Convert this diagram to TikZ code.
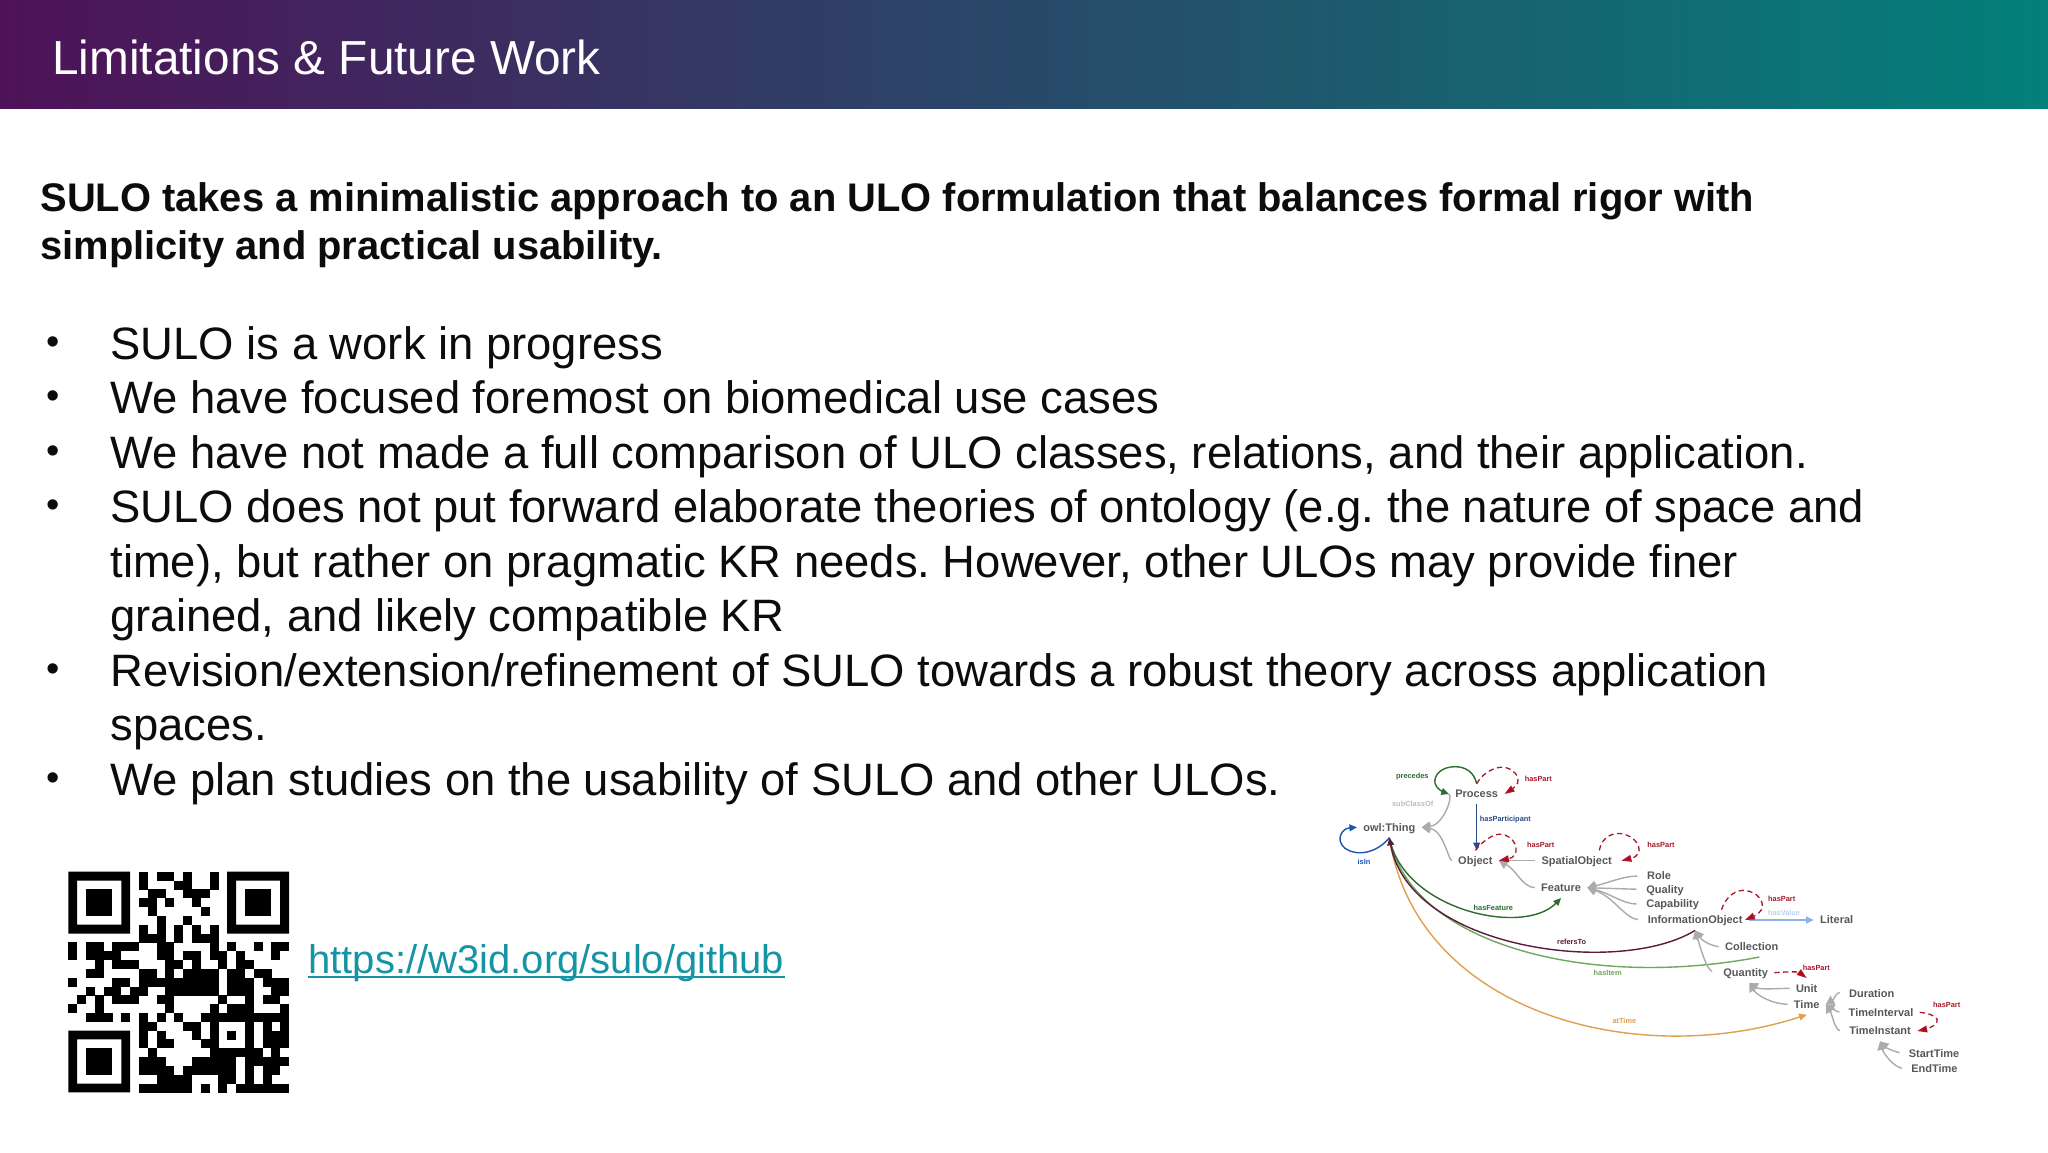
\documentclass[tikz,border=0pt]{standalone}
\usepackage{fontspec}
\setmainfont{Liberation Sans}
\usetikzlibrary{arrows.meta}
\frenchspacing
\definecolor{hdrL}{HTML}{4E1258}
\definecolor{hdrM}{HTML}{2A4A6C}
\definecolor{hdrR}{HTML}{03807A}
\definecolor{bodyink}{HTML}{0C0C0C}
\definecolor{linkink}{HTML}{1594A6}
\definecolor{cls}{HTML}{585858}
\definecolor{sub}{HTML}{ABABAB}
\definecolor{partred}{HTML}{A8182A}
\definecolor{tipred}{HTML}{C00010}
\definecolor{grn}{HTML}{2E6B2E}
\definecolor{blu}{HTML}{2A4A8A}
\definecolor{blv}{HTML}{1A56B0}
\definecolor{pur}{HTML}{5C1A3C}
\definecolor{itm}{HTML}{6FA85F}
\definecolor{org}{HTML}{DFA050}
\definecolor{val}{HTML}{8FB0EE}
\tikzset{
  titletext/.style={anchor=base west,inner sep=0pt,text=white,font=\fontsize{23.87}{28}\selectfont},
  leadtext/.style={anchor=base west,inner sep=0pt,text=bodyink,font=\bfseries\fontsize{19.95}{24}\selectfont},
  bodytext/.style={anchor=base west,inner sep=0pt,text=bodyink,font=\fontsize{22.7}{26}\selectfont},
  bulletmark/.style={anchor=base,inner sep=0pt,text=bodyink,font=\fontsize{19}{22}\selectfont},
  linktext/.style={anchor=base west,inner sep=0pt,text=linkink,font=\fontsize{20}{24}\selectfont},
  cnode/.style={inner sep=3pt,text height=3.96pt,text depth=0pt,text=cls,font=\bfseries\fontsize{5.5}{6.6}\selectfont},
  lnode/.style={cnode,anchor=west},
  elab/.style={inner sep=0pt,font=\bfseries\fontsize{3.7}{4.4}\selectfont},
  subarrow/.style={draw=sub,line width=0.7pt,-{Triangle[length=4.2pt,width=5pt,fill=sub]}},
  partarrow/.style={draw=partred,line width=0.65pt,dash pattern=on 2.6pt off 1.8pt,-{Triangle[length=5pt,width=3.4pt,fill=tipred]}},
  relarrow/.style={line width=0.7pt,-{Triangle[length=3.8pt,width=3.4pt]}},
}
\begin{document}
\begin{tikzpicture}[x=0.5pt,y=-0.5pt]
\useasboundingbox (0,0) rectangle (2048,1152);
\fill[white] (0,0) rectangle (2048,1152);
\shade[left color=hdrL,middle color=hdrM,right color=hdrR,shading angle=90] (0,0) rectangle (2048,108);
\node[titletext] (title) at (52,74) {Limitations \& Future Work};
\node[leadtext] (lead1) at (40,211) {SULO takes a minimalistic approach to an ULO formulation that balances formal rigor with};
\node[leadtext] (lead2) at (40,259) {simplicity and practical usability.};
\foreach \bn/\by in {b1/354,b2/408.5,b3/463,b4/517.5,b5/681,b6/790}
  \node[bulletmark] (\bn) at (53.5,\by) {•};
\node[bodytext] (t1) at (110,359) {SULO is a work in progress};
\node[bodytext] (t2) at (110,413.5) {We have focused foremost on biomedical use cases};
\node[bodytext] (t3) at (110,468) {We have not made a full comparison of ULO classes, relations, and their application.};
\node[bodytext] (t4) at (110,522.5) {SULO does not put forward elaborate theories of ontology (e.g. the nature of space and};
\node[bodytext] (t5) at (110,577) {time), but rather on pragmatic KR needs. However, other ULOs may provide finer};
\node[bodytext] (t6) at (110,631.5) {grained, and likely compatible KR};
\node[bodytext] (t7) at (110,686) {Revision/extension/refinement of SULO towards a robust theory across application};
\node[bodytext] (t8) at (110,740.5) {spaces.};
\node[bodytext] (t9) at (110,795) {We plan studies on the usability of SULO and other ULOs.};
\node[linktext] (link) at (308,973) {https://w3id.org/sulo/github};
\fill[linkink] ([yshift=-1.4pt]link.base west) rectangle ([yshift=-2.6pt]link.base east);
% QR code
\begin{scope}[shift={(68.3,871.7)},x=4.415pt,y=-4.415pt]
  \foreach \fx/\fy in {0/0,18/0,0/18}{
    \fill[black,even odd rule] (\fx,\fy) rectangle ++(7,7) (\fx+1,\fy+1) rectangle ++(5,5);
    \fill[black] (\fx+2,\fy+2) rectangle ++(3,3);
  }
  \foreach \qr/\qcs in {
    0/{8,10,11,13,16},
    1/{8,12,13,16},
    2/{9,10,13,14,15},
    3/{8,9,11,14},
    4/{9,15},
    5/{10,13},
    6/{8,10,12,14,16},
    7/{8,9,10,12,14,15,16},
    8/{0,2,3,5,6,7,10,11,16,18,21,23,24},
    9/{0,2,3,4,5,10,11,13,14,16,17,19,23},
    10/{3,5,6,7,11,12,14,17,19,20},
    11/{2,3,8,9,11,13,14,15,16,18,19,21,22},
    12/{0,5,6,8,9,10,11,12,13,14,15,16,18,19,20,22,23,24},
    13/{2,4,5,7,8,11,12,13,14,15,16,18,19,20,23,24},
    14/{1,3,5,6,7,10,11,17,20,22,23},
    15/{0,3,11,16,18,19,20,24},
    16/{2,3,4,6,8,10,12,15,16,17,18,19,20,21,22,23,24},
    17/{8,9,13,14,16,20,22,24},
    18/{8,10,14,16,18,20,22,23,24},
    19/{8,10,11,15,16,20,22,23,24},
    20/{9,16,17,18,19,20,21,23},
    21/{8,9,10,14,15,16,17,18,20,21,22,23,24},
    22/{8,9,10,11,13,14,15,16,17,18,20,22,23},
    23/{10,11,12,13,17,18,20,22},
    24/{8,9,10,11,12,13,15,17,19,20,21,22,23,24}}{
    \foreach \qc in \qcs {
      \fill[black] (\qc,\qr) rectangle ++(1.02,1.02);
    }
  }
\end{scope}
% Ontology diagram
\begin{scope}[shift={(1320,750)},x=0.16667pt,y=-0.16667pt]
  \node[cnode] (process) at (470,132) {Process};
  \node[cnode] (owl) at (208,232) {owl:Thing};
  \node[cnode] (object) at (466,332) {Object};
  \node[cnode] (spatial) at (770,332) {SpatialObject};
  \node[cnode] (feature) at (723,413) {Feature};
  \node[lnode] (role) at (962,378) {Role};
  \node[lnode] (quality) at (960,418) {Quality};
  \node[lnode] (capability) at (960,462) {Capability};
  \node[lnode] (io) at (964,510) {InformationObject};
  \node[cnode] (literal) at (1550,510) {Literal};
  \node[cnode] (collection) at (1295,590) {Collection};
  \node[cnode] (quantity) at (1277,668) {Quantity};
  \node[cnode] (unit) at (1460,715) {Unit};
  \node[cnode] (time) at (1460,763) {Time};
  \node[cnode] (duration) at (1655,730) {Duration};
  \node[cnode] (interval) at (1683,787) {TimeInterval};
  \node[cnode] (instant) at (1680,843) {TimeInstant};
  \node[cnode] (start) at (1842,910) {StartTime};
  \node[cnode] (endt) at (1843,956) {EndTime};
  % edge labels
  \node[elab,text=grn] (lprec) at (277,80) {precedes};
  \node[elab,text=partred] (lp1) at (655,86) {hasPart};
  \node[elab,text=sub!80!white] (lsub) at (278,162) {subClassOf};
  \node[elab,text=blu] (lpart) at (556,208) {hasParticipant};
  \node[elab,text=blv] (lisin) at (132,335) {isIn};
  \node[elab,text=partred] (lp2) at (662,285) {hasPart};
  \node[elab,text=partred] (lp3) at (1023,284) {hasPart};
  \node[elab,text=grn] (lfeat) at (520,474) {hasFeature};
  \node[elab,text=pur] (lref) at (755,576) {refersTo};
  \node[elab,text=partred] (lp4) at (1385,445) {hasPart};
  \node[elab,text=val!60!white] (lval) at (1392,489) {hasValue};
  \node[elab,text=partred] (lp5) at (1489,652) {hasPart};
  \node[elab,text=partred] (lp6) at (1880,764) {hasPart};
  \node[elab,text=itm] (litem) at (863,668) {hasItem};
  \node[elab,text=org] (ltime) at (913,813) {atTime};
  % long arcs
  \draw[org,line width=0.7pt,-{Triangle[length=3.8pt,width=3.4pt,fill=org]}] (owl.south) .. controls (290,790) and (950,960) .. (time.south);
  \draw[itm,line width=0.7pt] (owl.south) .. controls (270,580) and (800,720) .. ([xshift=3.8pt]collection.south);
  \draw[grn,relarrow] (owl.south) .. controls (250,480) and (610,560) .. (feature.south);
  \draw[pur,line width=0.7pt,{Triangle[length=3.8pt,width=3.4pt]}-] (owl.south) .. controls (270,600) and (900,680) .. (io.south);
  % subclass links
  \draw[subarrow] (process.west) .. controls (400,140) and (370,225) .. (owl.east);
  \draw[subarrow] (object.west) .. controls (385,330) and (370,240) .. (owl.east);
  \draw[subarrow] (spatial.west) -- (object.east);
  \draw[subarrow] (feature.west) .. controls (605,410) and (590,360) .. (object.east);
  \draw[subarrow,shorten <=1.7pt] (role.west) .. controls (910,378) and (860,400) .. (feature.east);
  \draw[subarrow,shorten <=1.7pt] (quality.west) -- (feature.east);
  \draw[subarrow,shorten <=1.7pt] (capability.west) .. controls (910,462) and (870,430) .. (feature.east);
  \draw[subarrow,shorten <=1.7pt] (io.west) .. controls (915,505) and (880,440) .. (feature.east);
  \draw[subarrow] (collection.west) .. controls (1165,585) and (1145,570) .. (io.south);
  \draw[subarrow,shorten <=2.5pt] (quantity.west) .. controls (1160,660) and (1140,590) .. (io.south);
  \draw[subarrow] (unit.west) .. controls (1370,715) and (1320,720) .. ([xshift=1.8pt]quantity.south);
  \draw[subarrow] (time.west) .. controls (1350,760) and (1310,735) .. ([xshift=1.8pt]quantity.south);
  \draw[subarrow,shorten <=1.5pt] (duration.west) .. controls (1550,725) and (1540,750) .. (time.east);
  \draw[subarrow,shorten <=1.5pt] (interval.west) .. controls (1550,785) and (1535,775) .. (time.east);
  \draw[subarrow,shorten <=1.5pt] (instant.west) .. controls (1545,840) and (1535,790) .. (time.east);
  \draw[subarrow,shorten <=1.5pt] (start.west) .. controls (1725,905) and (1700,895) .. (instant.south);
  \draw[subarrow,shorten <=1.5pt] (endt.west) .. controls (1720,950) and (1690,910) .. (instant.south);
  % relations
  \draw[grn,relarrow] (process.north) .. controls (462,65) and (435,50) .. (405,50) .. controls (365,50) and (340,75) .. (345,100) .. controls (349,118) and (375,128) .. (process.west);
  \draw[blv,relarrow] (owl.south) .. controls (170,310) and (110,320) .. (75,295) .. controls (45,270) and (65,235) .. (owl.west);
  \draw[blu,relarrow,line width=0.8pt] (process.south) -- (process.south |- object.north);
  \draw[val,relarrow] (io.east) -- (literal.west);
  % hasPart loops
  \draw[partarrow] (process.north) .. controls (490,65) and (530,48) .. (555,52) .. controls (590,60) and (610,95) .. (process.east);
  \draw[partarrow] (object.north) .. controls (495,265) and (530,245) .. (555,255) .. controls (595,270) and (600,320) .. (object.east);
  \draw[partarrow] ([xshift=11.3pt]spatial.north) .. controls (845,260) and (880,245) .. (910,252) .. controls (960,265) and (975,315) .. ([xshift=1.6pt]spatial.east);
  \draw[partarrow] ([xshift=13.2pt]io.north) .. controls (1215,445) and (1245,415) .. (1280,422) .. controls (1330,432) and (1345,480) .. ([xshift=-2pt]io.east);
  \draw[partarrow] (quantity.east) .. controls (1400,665) and (1435,665) .. (unit.north);
  \draw[partarrow] (interval.east) .. controls (1835,790) and (1860,805) .. (1850,818) .. controls (1840,832) and (1815,838) .. (instant.east);
\end{scope}
\end{tikzpicture}
\end{document}
